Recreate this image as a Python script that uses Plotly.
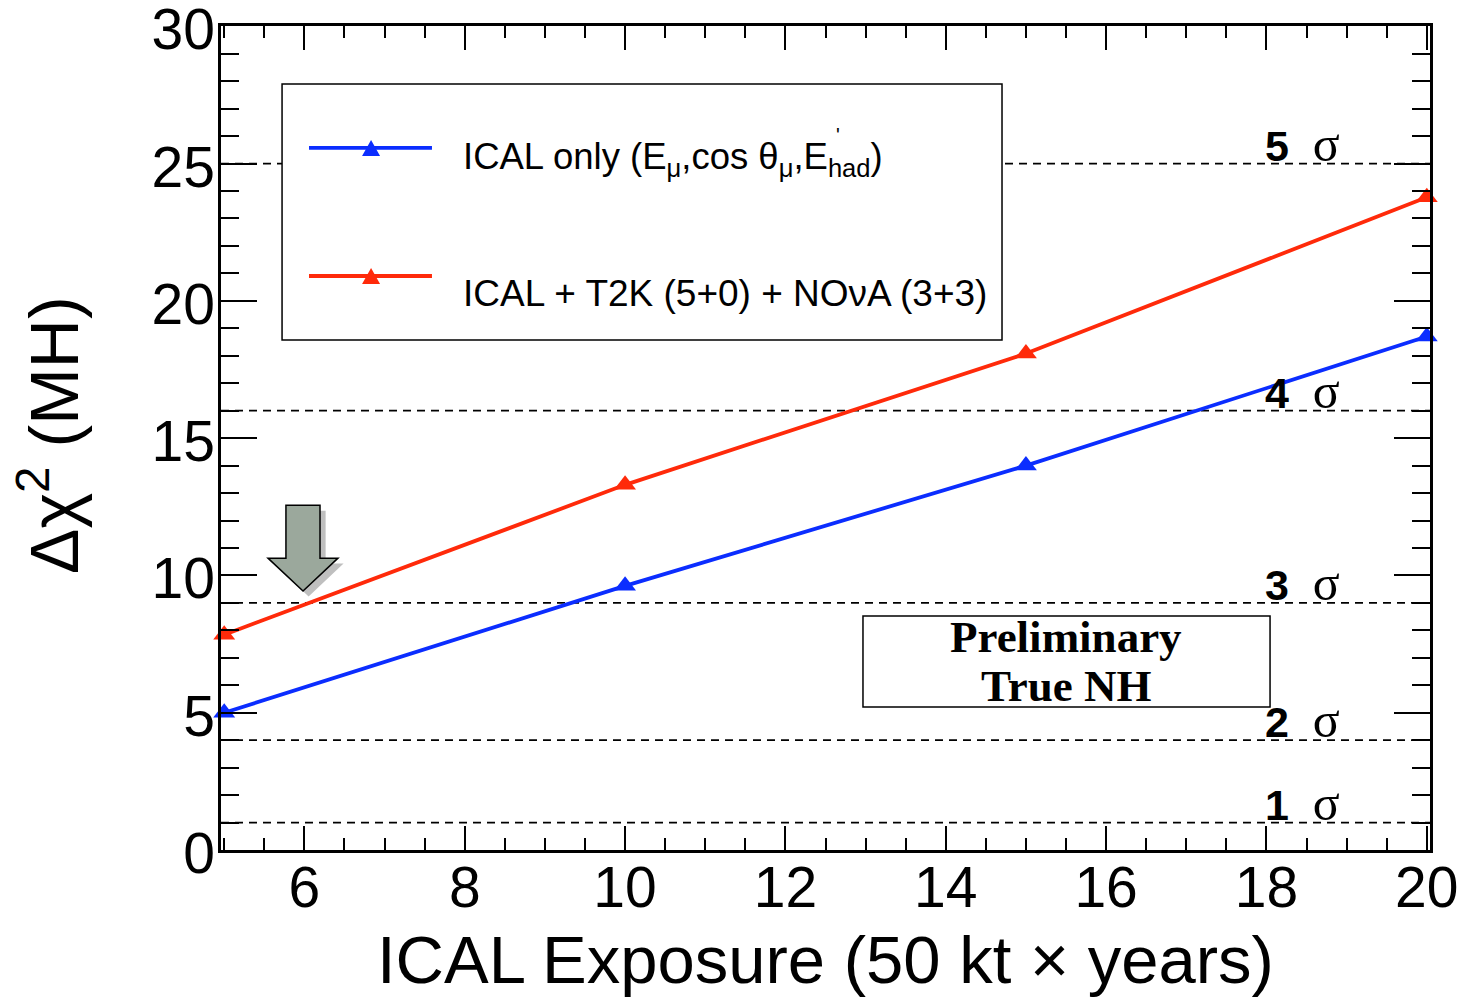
import plotly.graph_objects as go

# Exposure (units of 50 kt x years) and Delta chi^2 for mass-hierarchy sensitivity
exposure = [5, 10, 15, 20]
ical_only = [5.0, 9.62, 14.0, 18.7]
ical_t2k_nova = [7.84, 13.3, 18.08, 23.77]

# Significance levels: n sigma <-> Delta chi^2 = n^2
sigma_levels = [1, 2, 3, 4, 5]

x_ticks = [6, 8, 10, 12, 14, 16, 18, 20]
y_ticks = [0, 5, 10, 15, 20, 25, 30]

BLUE = "#0b2dff"
RED = "#ff2a0a"
FONT = "Liberation Sans, Arial, Helvetica, sans-serif"
SERIF = "Liberation Serif, Times New Roman, serif"

fig = go.Figure()

fig.add_trace(go.Scatter(
    x=exposure, y=ical_only, mode="lines+markers",
    line=dict(color=BLUE, width=3.8),
    marker=dict(symbol="triangle-up", size=19, color=BLUE),
    showlegend=False, cliponaxis=False))
fig.add_trace(go.Scatter(
    x=exposure, y=ical_t2k_nova, mode="lines+markers",
    line=dict(color=RED, width=3.8),
    marker=dict(symbol="triangle-up", size=19, color=RED),
    showlegend=False, cliponaxis=False))

shapes = []
annotations = []

# Dashed sigma reference lines
for n in sigma_levels:
    shapes.append(dict(type="line", xref="paper", x0=0, x1=1, yref="y",
                       y0=n * n, y1=n * n, layer="below",
                       line=dict(color="black", width=1.8, dash="8px,6px")))
    annotations.append(dict(
        xref="x", yref="y", x=18.45, y=n * n, yanchor="bottom", yshift=-10,
        showarrow=False,
        text=(f"<b>{n}</b>&nbsp;&nbsp;<span style='font-family:{SERIF};"
              f"font-size:50px'>σ</span>"),
        font=dict(family=FONT, size=43, color="black")))

# Legend box drawn on top of the dashed lines
PW, PH = 1209.0, 824.0   # plot-area size in px, for paper-coordinate offsets
lx0, lx1, ly0, ly1 = 0.0505, 0.646, 0.619, 0.9296
shapes.append(dict(type="rect", xref="paper", yref="paper",
                   x0=lx0, x1=lx1, y0=ly0, y1=ly1,
                   fillcolor="white", line=dict(color="black", width=1.5)))
for yy, col in [(0.852, BLUE), (0.6966, RED)]:
    shapes.append(dict(type="line", xref="paper", yref="paper",
                       x0=0.0728, x1=0.1745, y0=yy, y1=yy,
                       line=dict(color=col, width=3.8)))
    cx, hw, hh = 0.1241, 9 / PW, 8 / PH
    shapes.append(dict(type="path", xref="paper", yref="paper",
                       path=(f"M {cx - hw},{yy - hh} L {cx + hw},{yy - hh} "
                             f"L {cx},{yy + hh} Z"),
                       fillcolor=col, line=dict(width=0)))

annotations.append(dict(
    xref="paper", yref="paper", x=0.1985, y=0.838, xanchor="left",
    yanchor="middle", showarrow=False,
    text="ICAL only (E<sub>μ</sub>,cos θ<sub>μ</sub>,E<sub>had</sub>)",
    font=dict(family=FONT, size=36.5, color="black")))
annotations.append(dict(
    xref="paper", yref="paper", x=0.5105, y=0.868, xanchor="center",
    yanchor="middle", showarrow=False, text="'",
    font=dict(family=FONT, size=20, color="black")))
annotations.append(dict(
    xref="paper", yref="paper", x=0.1985, y=0.6748, xanchor="left",
    yanchor="middle", showarrow=False,
    text="ICAL + T2K (5+0) + NOνA (3+3)",
    font=dict(family=FONT, size=37, color="black")))

# "Preliminary / True NH" label box
shapes.append(dict(type="rect", xref="paper", yref="paper",
                   x0=0.531, x1=0.8677, y0=0.1735, y1=0.284,
                   fillcolor="white", line=dict(color="black", width=1.5)))
for txt, yy in [("Preliminary", (850 - 637) / PH), ("True NH", (850 - 686) / PH)]:
    annotations.append(dict(
        xref="paper", yref="paper", x=0.6993, y=yy, xanchor="center",
        yanchor="middle", showarrow=False, text=f"<b>{txt}</b>",
        font=dict(family=SERIF, size=45, color="black")))

# Block arrow marking the reference exposure
arrow_pts = [(5.77, 12.56), (6.195, 12.56), (6.195, 10.63), (6.419, 10.63),
             (5.983, 9.43), (5.546, 10.63), (5.77, 10.63)]


def arrow_path(dx, dy):
    return "M " + " L ".join(f"{x + dx},{y + dy}" for x, y in arrow_pts) + " Z"


shapes.append(dict(type="path", xref="x", yref="y", path=arrow_path(0.07, -0.2),
                   fillcolor="rgba(0,0,0,0.25)", line=dict(width=0)))
shapes.append(dict(type="path", xref="x", yref="y", path=arrow_path(0, 0),
                   fillcolor="#9ba89c", line=dict(color="black", width=1.5)))

# Axis titles
annotations.append(dict(
    xref="paper", yref="paper", x=0.5, y=0, yanchor="middle", yshift=-109,
    xshift=0, showarrow=False, text="ICAL Exposure (50 kt × years)",
    font=dict(family=FONT, size=67, color="black")))
annotations.append(dict(
    xref="paper", yref="paper", x=0, y=0.5, xanchor="center", xshift=-172,
    yshift=3, textangle=-90, showarrow=False, text="Δχ<sup>2</sup> (MH)",
    font=dict(family=FONT, size=68, color="black")))

fig.update_layout(
    width=1460, height=999,
    margin=dict(l=221, r=30, t=26, b=149, autoexpand=False),
    paper_bgcolor="white", plot_bgcolor="white",
    shapes=shapes, annotations=annotations,
    xaxis=dict(range=[4.96, 20.04], tickvals=x_ticks, automargin=False,
               ticks="inside", ticklen=24, tickwidth=2, tickcolor="black",
               minor=dict(dtick=0.5, tick0=5, ticks="inside", ticklen=12,
                          tickwidth=2, tickcolor="black"),
               showline=True, linecolor="black", linewidth=2.5, mirror="allticks",
               showgrid=False, zeroline=False, ticklabelstandoff=-14,
               ticklabeloverflow="allow",
               tickfont=dict(family=FONT, size=57, color="black")),
    yaxis=dict(range=[0, 30.01], tickvals=y_ticks, automargin=False,
               ticks="inside", ticklen=36, tickwidth=2, tickcolor="black",
               minor=dict(dtick=1, ticks="inside", ticklen=18,
                          tickwidth=2, tickcolor="black"),
               showline=True, linecolor="black", linewidth=2.5, mirror="allticks",
               showgrid=False, zeroline=False, ticklabelstandoff=-8,
               ticklabelshift=3, ticklabeloverflow="allow",
               tickfont=dict(family=FONT, size=57, color="black")),
)

fig.write_html("out.html")
